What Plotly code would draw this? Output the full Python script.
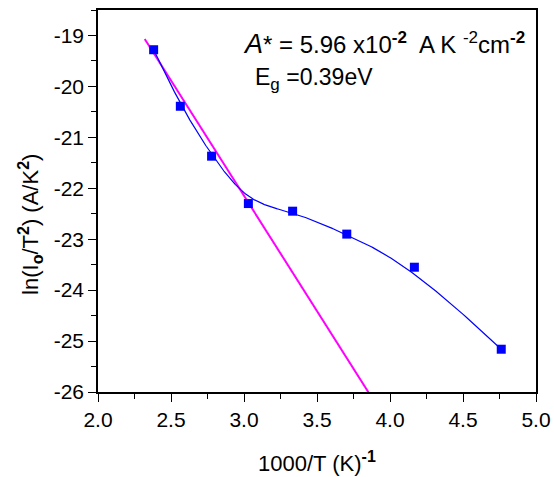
import numpy as np
import plotly.graph_objects as go

# Measured points: 1000/T (K^-1) and ln(I0/T^2)
inv_T = [2.381, 2.564, 2.778, 3.030, 3.333, 3.704, 4.167, 4.762]
ln_I0_T2 = [-19.28, -20.39, -21.37, -22.30, -22.45, -22.90, -23.55, -25.16]

# Richardson linear fit (high-temperature region)
Eg_eV = 0.39
k_B = 8.617e-5  # eV/K
fit_intercept = -8.57
fit_x = [2.32, 3.87]

x_ticks = [2.0, 2.5, 3.0, 3.5, 4.0, 4.5, 5.0]
y_ticks = [-26, -25, -24, -23, -22, -21, -20, -19]

slope = -Eg_eV / k_B / 1000.0
fit_y = [fit_intercept + slope * x for x in fit_x]


def bspline_curve(px, py, degree=3, samples=400):
    """Clamped uniform B-spline using the data points as control points."""
    P = np.column_stack([px, py])
    n = len(P)
    inner = np.arange(1, n - degree)
    knots = np.concatenate([np.zeros(degree + 1), inner,
                            np.full(degree + 1, n - degree)]).astype(float)
    ts = np.linspace(0, n - degree, samples)
    ts[-1] -= 1e-9

    def basis(i, k, t):
        if k == 0:
            return 1.0 if knots[i] <= t < knots[i + 1] else 0.0
        a = 0.0
        d1 = knots[i + k] - knots[i]
        if d1 > 0:
            a += (t - knots[i]) / d1 * basis(i, k - 1, t)
        d2 = knots[i + k + 1] - knots[i + 1]
        if d2 > 0:
            a += (knots[i + k + 1] - t) / d2 * basis(i + 1, k - 1, t)
        return a

    pts = np.array([sum(basis(i, degree, t) * P[i] for i in range(n)) for t in ts])
    return pts[:, 0], pts[:, 1]


curve_x, curve_y = bspline_curve(inv_T, ln_I0_T2)

FONT = "Liberation Sans, Arial, sans-serif"

fig = go.Figure()

fig.add_trace(go.Scatter(
    x=fit_x, y=fit_y, mode="lines",
    line=dict(color="#FF00FF", width=2),
    showlegend=False,
))

fig.add_trace(go.Scatter(
    x=curve_x, y=curve_y, mode="lines",
    line=dict(color="#0000FF", width=1.2),
    showlegend=False,
))

fig.add_trace(go.Scatter(
    x=inv_T, y=ln_I0_T2, mode="markers",
    marker=dict(symbol="square", size=9, color="#0000FF"),
    showlegend=False,
))

axis_common = dict(
    showline=True, linecolor="black", linewidth=1.5, mirror=True,
    ticks="outside", tickcolor="black", tickwidth=1.3, ticklen=8,
    showgrid=False, zeroline=False, automargin=False,
    tickfont=dict(family=FONT, size=21, color="black"),
)

fig.update_xaxes(
    range=[2.0, 5.0], tickvals=x_ticks,
    ticktext=[f"{v:.1f}" for v in x_ticks],
    minor=dict(ticks="outside", ticklen=5, tickwidth=1.3, tickcolor="black",
               dtick=0.25, tick0=2.0),
    **axis_common,
)
fig.update_yaxes(
    range=[-26, -18.5], tickvals=y_ticks,
    ticktext=[str(v) for v in y_ticks],
    minor=dict(ticks="outside", ticklen=5, tickwidth=1.3, tickcolor="black",
               dtick=0.5, tick0=-26),
    **axis_common,
)

SS = "<span style='font-size:16px'>"
SS2 = "<span style='font-size:17px'>"

fig.add_annotation(
    xref="paper", yref="paper", x=0.5, y=-0.183,
    text=f"1000/T (K)<sup>{SS}<b>-1</b></span></sup>", showarrow=False,
    font=dict(family=FONT, size=22, color="black"),
    xanchor="center", yanchor="middle",
)
fig.add_annotation(
    xref="paper", yref="paper", x=-0.153, y=0.44,
    text=(f"ln(I<sub>{SS}<b>o</b></span></sub>/T<sup>{SS}<b>2</b></span></sup>)"
          f" (A/K<sup>{SS}<b>2</b></span></sup>)"),
    textangle=-90, showarrow=False,
    font=dict(family=FONT, size=22, color="black"),
    xanchor="center", yanchor="middle",
)
fig.add_annotation(
    xref="paper", yref="paper", x=0.326, y=0.911,
    text=("<span style='font-size:27px'><i>A</i></span>* = 5.96 x10"
          f"<sup>{SS2}<b>-2</b></span></sup>"
          f"  A K <sup>{SS2}-2</span></sup>cm<sup>{SS2}<b>-2</b></span></sup>"),
    showarrow=False, font=dict(family=FONT, size=24, color="black"),
    xanchor="left", yanchor="middle",
)
fig.add_annotation(
    xref="paper", yref="paper", x=0.355, y=0.82,
    text=f"E<sub>{SS2}g</span></sub> =0.39eV",
    showarrow=False, font=dict(family=FONT, size=23, color="black"),
    xanchor="left", yanchor="middle",
)

fig.update_layout(
    width=554, height=477,
    margin=dict(l=98, r=18, t=10, b=85),
    paper_bgcolor="white", plot_bgcolor="white",
    font=dict(family=FONT, color="black"),
)

fig.write_html("out.html")
